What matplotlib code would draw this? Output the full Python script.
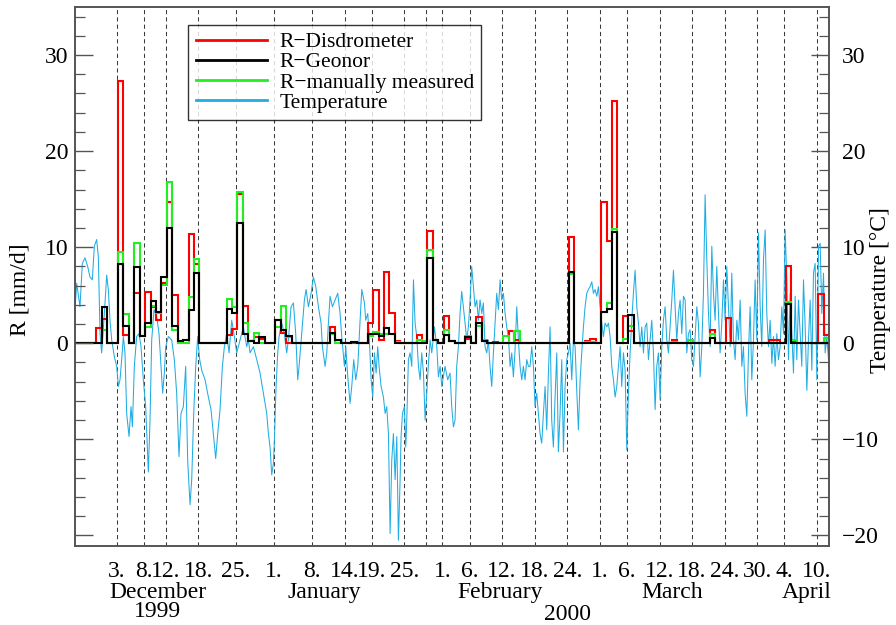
import numpy as np
import matplotlib
matplotlib.use("Agg")
import matplotlib.pyplot as plt
import matplotlib.transforms as mtransforms
from matplotlib.ticker import MultipleLocator, FuncFormatter
from matplotlib.lines import Line2D

plt.rcParams['font.family'] = ['Liberation Serif', 'DejaVu Serif']

# x axis = days since 1 Dec 1999 (0 = Dec 1)
tick_days = [2, 7, 11, 17, 24, 31, 38, 44, 49, 55, 62, 67, 73, 79, 85,
             91, 96, 102, 108, 114, 120, 125, 131]
tick_labels = ["3.", "8.", "12.", "18.", "25.", "1.", "8.", "14.", "19.", "25.",
               "1.", "6.", "12.", "18.", "24.", "1.", "6.", "12.", "18.", "24.",
               "30.", "4.", "10."]
extra_lines = [59]
month_names = ["December", "January", "February", "March", "April"]
month_pos = [9.6, 40.2, 72.6, 104.3, 129.2]
year_names = ["1999", "2000"]
year_pos = [9.6, 85.0]

# daily precipitation (only wet days listed, others are 0), mm/d
rain_day = [-2, -1, 2, 3, 5, 6, 7, 8, 9, 10, 11, 12, 13, 14, 15, 16,
            22, 23, 24, 25, 26, 27, 28, 31, 32, 33, 41, 42, 45,
            48, 49, 50, 51, 52, 53, 57, 58, 59, 60, 62, 63, 66, 68, 69, 71,
            73, 74, 75, 85, 88, 89, 91, 92, 93, 95, 96, 104, 107, 111, 114,
            122, 123, 125, 126, 131, 132]
r_disdro = [1.6, 2.5, 27.3, 0.9, 5.2, 0.8, 5.3, 3.8, 2.4, 6.25, 14.7, 5.0, 0, 0, 11.4, 8.2,
            0.9, 1.5, 15.5, 3.9, 0.2, 0.7, 0.4, 2.4, 1.1, 0, 1.7, 0, 0,
            2.1, 5.5, 0.3, 7.4, 3.1, 0.2, 0.9, 0.2, 11.7, 0.3, 2.8, 0.2, 0.4, 2.7, 0.2, 0.1,
            0, 1.3, 0.35, 11.1, 0.2, 0.45, 14.7, 10.6, 25.2, 2.8, 1.3, 0.3, 0, 1.4, 2.6,
            0.3, 0.3, 8.05, 0.2, 5.1, 0.9]
r_geonor = [0, 3.8, 8.3, 1.8, 7.9, 0.8, 2.1, 4.4, 3.3, 6.9, 12.0, 1.8, 0.2, 0.3, 3.5, 7.3,
            3.6, 3.1, 12.5, 1.0, 0.2, 0, 0.7, 2.4, 1.4, 0.8, 1.1, 0.3, 0.1,
            1.0, 1.0, 0.8, 1.6, 1.0, 0, 0, 0, 8.9, 0.3, 0.9, 0.2, 0.7, 2.1, 0.2, 0,
            0, 0, 0, 7.4, 0, 0, 3.3, 3.6, 11.6, 0, 2.9, 0, 0, 0.5, 0,
            0, 0, 4.1, 0, 0, 0]
r_manual = [0, 1.4, 9.5, 3.0, 10.4, 0.8, 1.7, 3.9, 3.1, 6.1, 16.8, 1.4, 0, 0, 4.8, 8.8,
            4.6, 3.8, 15.7, 2.1, 0.2, 1.1, 0, 1.7, 3.9, 0.7, 1.0, 0, 0.1,
            0.75, 1.2, 1.0, 1.0, 1.0, 0.1, 0.35, 0.2, 9.7, 0.3, 1.4, 0.2, 0.8, 1.8, 0.3, 0,
            0.8, 0, 1.3, 7.2, 0.1, 0.1, 3.3, 4.2, 11.9, 0.4, 1.8, 0.1, 0.3, 1.0, 0,
            0, 0, 4.3, 0.35, 0, 0.5]

# air temperature, degC
temp_day = [-5.68, -5.37, -4.76, -4.33, -3.84, -3.35, -2.92, -2.49, -2.12, -1.69, -1.38,
            -1.07, -0.77, -0.27, 0.16, 0.46, 0.77, 1.08, 1.57, 2.0, 2.31, 2.61, 2.92,
            3.23, 3.53, 3.84, 4.27, 4.64, 4.89, 5.25, 5.68, 6.11, 6.48, 6.91, 7.34,
            7.83, 8.14, 8.45, 8.88, 9.37, 9.8, 10.17, 10.47, 10.78, 11.03, 11.52, 12.13,
            12.62, 13.05, 13.48, 13.85, 14.28, 14.71, 15.08, 15.51, 15.82, 16.19, 16.56,
            16.92, 17.29, 17.66, 18.28, 18.89, 19.38, 19.81, 20.24, 20.61, 21.04, 21.47,
            21.84, 22.27, 22.7, 23.19, 23.68, 24.11, 24.73, 25.34, 25.95, 26.26, 26.57,
            27.18, 27.8, 28.41, 29.02, 29.64, 29.95, 30.25, 30.56, 30.87, 31.05, 31.36,
            31.67, 31.91, 32.4, 32.89, 33.32, 33.63, 34.12, 34.55, 34.98, 35.35, 35.6,
            36.09, 36.58, 36.89, 37.32, 37.81, 38.24, 38.67, 39.16, 39.65, 39.9, 40.39,
            40.7, 41.0, 41.31, 41.74, 42.23, 42.72, 43.15, 43.46, 43.95, 44.2, 44.57,
            44.99, 45.3, 45.67, 46.04, 46.41, 46.84, 47.15, 47.64, 47.88, 48.25, 48.5,
            48.87, 49.17, 49.48, 49.79, 50.09, 50.34, 50.71, 51.14, 51.45, 51.75, 52.06,
            52.37, 52.67, 52.98, 53.29, 53.6, 53.9, 54.21, 54.39, 54.64, 55.01, 55.25,
            55.44, 55.74, 56.05, 56.36, 56.67, 56.97, 57.28, 57.59, 57.89, 58.2, 58.51,
            58.82, 59.12, 59.43, 59.74, 60.04, 60.54, 60.97, 61.27, 61.58, 61.89,
            62.49, 62.98, 63.41, 63.72, 64.03, 64.33, 64.64, 64.95, 65.25, 65.56, 65.87,
            66.18, 66.48, 66.79, 67.1, 67.4, 67.71, 68.02, 68.33, 68.63, 68.94, 69.25,
            69.55, 69.86, 70.17, 70.48, 70.78, 71.09, 71.4, 71.7, 72.01, 72.32, 72.63,
            72.93, 73.24, 73.55, 73.85, 74.16, 74.47, 74.78, 75.08, 75.39, 75.7, 76.0,
            76.31, 76.62, 76.92, 77.23, 77.54, 77.85, 78.15, 78.46, 78.77, 79.07, 79.38,
            79.69, 79.99, 80.3, 80.61, 80.92, 81.22, 81.53, 81.84, 82.14, 82.45, 82.76,
            83.07, 83.37, 83.68, 83.99, 84.3, 84.6, 84.91, 85.22, 85.52, 85.83, 86.14,
            86.45, 86.75, 87.06, 87.37, 87.67, 87.98, 88.29, 88.6, 88.9, 89.21, 89.52,
            89.82, 90.13, 90.44, 90.75, 91.05, 91.36, 91.67, 91.97, 92.28, 92.59, 92.9,
            93.2, 93.51, 93.82, 94.12, 94.43, 94.74, 95.04, 95.35, 95.66, 95.97, 96.27,
            96.58, 96.89, 97.19, 97.5, 97.81, 98.12, 98.42, 98.73, 99.04, 99.35, 99.65,
            99.96, 100.27, 100.57, 100.88, 101.19, 101.49, 101.8, 102.11, 102.42, 102.72,
            103.03, 103.34, 103.64, 103.95, 104.26, 104.57, 104.87, 105.18, 105.49,
            105.79, 106.1, 106.41, 106.72, 107.02, 107.33, 107.64, 107.94, 108.25,
            108.56, 108.87, 109.17, 109.48, 109.79, 110.09, 110.4, 110.71, 111.02,
            111.32, 111.63, 111.94, 112.24, 112.55, 112.86, 113.16, 113.47, 113.78,
            114.09, 114.39, 114.7, 115.01, 115.31, 115.62, 115.93, 116.24, 116.54,
            116.85, 117.16, 117.46, 117.77, 118.08, 118.39, 118.69, 119.0, 119.31,
            119.61, 119.92, 120.23, 120.54, 120.84, 121.15, 121.46, 121.76, 122.07,
            122.38, 122.69, 122.99, 123.3, 123.61, 123.91, 124.22, 124.53, 124.84,
            125.14, 125.45, 125.76, 126.06, 126.37, 126.68, 126.99, 127.29, 127.6,
            127.91, 128.21, 128.52, 128.83, 129.14, 129.44, 129.75, 130.06, 130.36,
            130.67, 130.98, 131.29, 131.59, 131.9, 132.21, 132.51, 132.82, 133.13]
temp_c = [3.5, 6.25, 3.8, 8.3, 8.9, 8.0, 6.9, 6.6, 10.1, 10.8, 9.0,
          1.0, -1.0, 3.1, 7.1, 5.6, 2.4, 0.35, -1.4, -2.4, -4.5, -3.8, -1.7,
          0.7, -1.0, -7.3, -9.7, -6.6, -8.7, -2.4, 0.7, 1.0, -0.35, -3.8, -6.6,
          -13.4, -8.0, 0.35, 3.5, 2.8, 1.0, -2.4, -5.2, -3.1, -0.35, 0.7, 0.35,
          -1.7, -5.2, -11.8, -7.3, -6.6, -2.4, -12.2, -16.8, -14.2, -7.3, -2.4,
          0.7, -1.7, -2.8, -3.8, -5.6, -6.9, -9.4, -12.0, -9.4, -6.9, -2.4,
          -0.35, 1.0, -1.0, 2.4, 0.7, -1.0, 0.35, 1.7, -0.35, 0.35, -1.0,
          -0.35, -1.7, -3.1, -5.2, -7.3, -9.4, -10.8, -13.7, -12.5, -10.1, -4.5,
          -1.0, 0.7, 2.1, 1.0, -1.0, 0.35, 3.8, 4.2, 1.0, -3.8, -2.4,
          1.0, 4.5, 5.6, 3.8, 5.2, 6.9, 5.9, 3.8, 2.1, -0.35, -2.4,
          -1.0, 2.1, 4.9, 3.8, 4.5, 5.2, 3.1, 0.7, -2.4, -0.35, -3.5,
          -6.25, -4.5, -1.7, -3.8, -2.4, 2.4, 5.6, 4.2, 2.4, 3.1, 1.0,
          -3.8, -5.6, -1.0, -3.1, -0.35, -2.4, -4.5, -5.6, -7.3, -6.6, -9.4,
          -19.8, -12.2, -9.4, -14.2, -9.7, -20.5, -14.2, -9.7, -7.3, -6.6, -10.8,
          -8.0, -1.7, -1.0, -2.4, 6.6, 2.1, 0.7, -2.4, -3.8, -1.0, -3.1,
          -8.0, -5.2, -2.1, 0.35, -1.0, 1.7, -0.35, -3.5, -2.4, -4.5,
          -2.4, -3.8, -3.1, -6.6, -8.7, -8.0, -2.4, -0.35, 3.1, 5.4, 3.8,
          2.1, 0.35, 1.7, 4.5, 8.0, 5.9, 3.8, 4.5, 2.4, 4.5, 3.1,
          4.2, -0.35, -1.0, 0.35, -2.4, -4.5, -1.0, 2.1, 5.2, 3.5, 6.6,
          4.5, 5.2, 3.1, 1.7, 0.7, -2.4, -1.0, -3.5, -0.7, 3.8, 0.35,
          -2.4, -3.8, -2.4, -3.8, -1.7, -2.4, -2.4, -0.35, -2.4, -6.6, -5.2,
          -7.3, -9.4, -10.4, -7.3, -4.5, -9.0, -3.1, 1.7, -8.0, -10.8, -5.6,
          -1.0, -11.3, -7.3, -1.7, -11.3, -4.5, -1.7, -1.0, 0.0, -3.8, 0.35,
          -0.35, -4.9, -9.0, -3.8, -1.0, 1.7, 3.8, 5.2, 5.6, 5.9, 6.4,
          5.2, 5.6, 4.9, 5.9, 3.8, 2.1, 0.7, 2.1, 1.7, 2.1, 0.7,
          -2.4, -3.8, -5.6, -4.5, -2.4, -0.35, -4.5, -1.0, -2.8, -11.1, -5.2,
          -1.0, 2.4, 5.2, 7.6, 3.8, 2.1, -0.35, 1.7, -1.0, 1.7, 2.1,
          -1.7, 0.35, 2.4, -1.0, -6.9, -2.4, -1.0, -5.9, -0.35, 2.4,
          3.8, 0.35, -1.0, 1.7, 4.5, 7.6, 3.8, 0.35, 3.1,
          4.5, 1.0, 4.9, 4.5, -1.0, 1.0, 1.4, -1.7, -2.4,
          0.7, 3.8, 2.1, -3.5, -0.35, 5.2, 15.45, 8.7, 3.1,
          -0.35, 10.1, 5.2, 2.4, 8.0, 3.1, -1.0, 2.1, 6.6,
          2.4, 8.0, 3.8, -0.35, 7.3, 0.35, -1.7, 2.4, 0.35,
          4.5, -2.4, -0.35, -5.2, -7.6, -1.0, 3.8, -3.8, 0.35,
          6.6, 0.35, 11.5, 3.8, -0.35, 8.7, 11.8, 3.1, -0.35,
          2.4, -2.1, 0.7, -2.4, 1.0, -1.7, -0.35, 3.8, 1.0,
          11.8, 6.6, -1.7, 5.2, 1.0, -3.1, 4.9, -1.7, 4.5,
          1.0, -2.4, 6.6, 1.7, -4.9, 0.35, 4.5, -2.8, 7.3,
          8.3, -3.8, 10.1, 10.4, 3.1, 7.3, -1.0, 0.7, -1.7]

# full daily series (bars run from ~6 UTC to 6 UTC)
days = np.arange(-6, 134)
edges = np.append(days, days[-1] + 1) + 0.25
series = {}
for name, vals in [("dis", r_disdro), ("geo", r_geonor), ("man", r_manual)]:
    full = np.zeros(len(days))
    for d, v in zip(rain_day, vals):
        full[d + 6] = v
    series[name] = full

fig = plt.figure(figsize=(8.96, 6.25), dpi=100)
ax = fig.add_axes([0.0837, 0.1264, 0.842, 0.8624])
ax2 = ax.twinx()
ax.set_zorder(ax2.get_zorder() + 1)
ax.patch.set_visible(False)

col_t = '#20ade3'
ax2.plot(temp_day, temp_c, color=col_t, lw=0.75)
for d in tick_days + extra_lines:
    ax2.axvline(d, color='#3a3a3a', lw=0.75, ls=(0, (4, 3)), zorder=0)

ax.stairs(series["dis"], edges, color='#ff0000', lw=1.5, baseline=None)
ax.stairs(series["man"], edges, color='#22ee22', lw=1.5, baseline=None)
ax.stairs(series["geo"], edges, color='black', lw=1.5, baseline=None)

xmin, xmax = -5.68, 133.3
ymin, ymax = -21.1, 35
for a in (ax, ax2):
    a.set_xlim(xmin, xmax)
    a.set_ylim(ymin, ymax)
    a.yaxis.set_major_locator(MultipleLocator(10))
    a.yaxis.set_minor_locator(MultipleLocator(2))
    a.tick_params(axis='y', which='major', direction='in', length=13, width=1,
                  color='#555555', labelsize=17)
    a.tick_params(axis='y', which='minor', direction='in', length=7, width=0.9,
                  color='#555555')
    for s in a.spines.values():
        s.set_color('#555555')
        s.set_linewidth(1.2)

ax.tick_params(axis='y', pad=5)
ax2.tick_params(axis='y', pad=9)
ax.yaxis.set_major_formatter(FuncFormatter(lambda v, p: '%d' % v if v >= 0 else ''))

ax.set_xticks(tick_days)
ax.set_xticklabels(tick_labels)
ax.tick_params(axis='x', length=0, pad=11, labelsize=17)
ax2.tick_params(axis='x', length=0)

trans = mtransforms.blended_transform_factory(ax.transData, ax.transAxes)
for name, d in zip(month_names, month_pos):
    ax.text(d, -0.087, name, transform=trans, ha='center', va='center', fontsize=17)
ax.text(year_pos[0], -0.122, year_names[0], transform=trans, ha='center', va='center', fontsize=17)
ax.text(year_pos[1], -0.127, year_names[1], transform=trans, ha='center', va='center', fontsize=17)

fig.text(20 / 896, 1 - 290 / 625, 'R [mm/d]', rotation=90, ha='center', va='center', fontsize=17)
fig.text(880 / 896, 1 - 290 / 625, 'Temperature [°C]', rotation=90, ha='center', va='center', fontsize=17)

handles = [Line2D([], [], color='#ff0000', lw=2),
           Line2D([], [], color='black', lw=2),
           Line2D([], [], color='#22ee22', lw=2),
           Line2D([], [], color=col_t, lw=2)]
labels = ['R\u2212Disdrometer', 'R\u2212Geonor', 'R\u2212manually measured', 'Temperature']
leg = ax.legend(handles, labels, loc='upper left', bbox_to_anchor=(0.15, 0.967),
                fontsize=15.5, frameon=True, fancybox=False, handlelength=3.3,
                handletextpad=0.6, labelspacing=0.0, borderpad=0.35, borderaxespad=0)
leg.get_frame().set_edgecolor('black')
leg.get_frame().set_linewidth(1.0)

fig.savefig('out.png', dpi=100)
